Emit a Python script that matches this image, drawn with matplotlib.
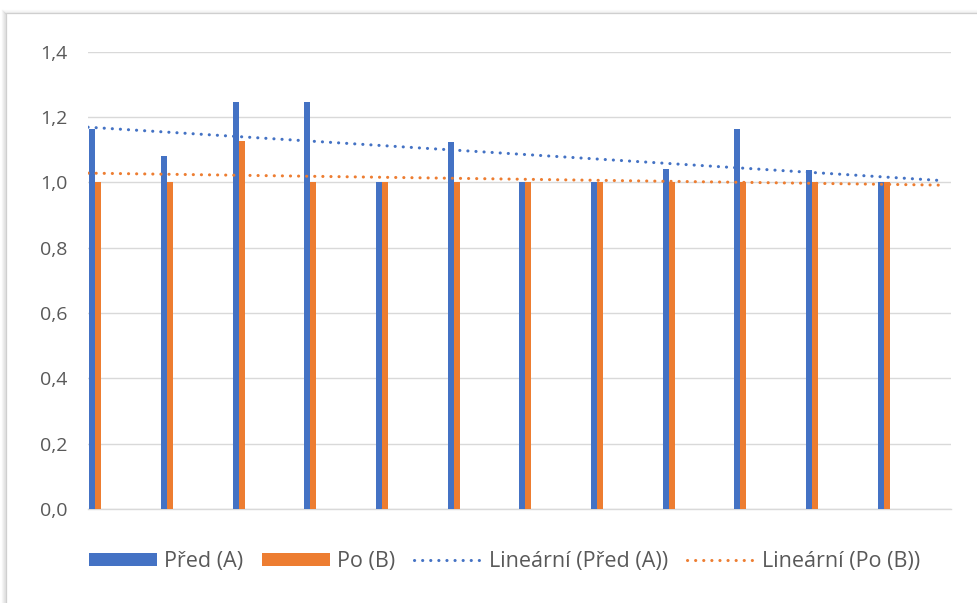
import numpy as np
import matplotlib.pyplot as plt
from matplotlib.patches import Patch, Rectangle
from matplotlib.lines import Line2D

plt.rcParams['font.family'] = ['Open Sans', 'DejaVu Sans']

# --- data ---
categories = list(range(1, 13))
pred_a = [1.163, 1.081, 1.246, 1.246, 1.0, 1.123, 1.0, 1.0, 1.040, 1.163, 1.037, 1.0]
po_b = [1.0, 1.0, 1.126, 1.0, 1.0, 1.0, 1.0, 1.0, 1.0, 1.0, 1.0, 1.0]
y_ticks = [0.0, 0.2, 0.4, 0.6, 0.8, 1.0, 1.2, 1.4]
y_tick_labels = ['0,0', '0,2', '0,4', '0,6', '0,8', '1,0', '1,2', '1,4']
series_names = ['Před (A)', 'Po (B)']
trend_names = ['Lineární (Před (A))', 'Lineární (Po (B))']

BLUE = '#4472C4'
ORANGE = '#ED7D31'
GRID = '#D9D9D9'
TEXT = '#595959'

W, H = 977, 603
fig = plt.figure(figsize=(W / 100, H / 100), dpi=100)
fig.patch.set_facecolor('white')

# chart frame with a soft shadow on the left/top
for i, a in enumerate([0.05, 0.09, 0.14, 0.2]):
    fig.add_artist(Line2D([(1.5 + i) / W, (1.5 + i) / W], [0, 1 - (10 + i) / H],
                          transform=fig.transFigure, color='#808080', alpha=a, lw=1.0,
                          zorder=-10))
    fig.add_artist(Line2D([(2 + i) / W, 1], [1 - (9.5 + i) / H, 1 - (9.5 + i) / H],
                          transform=fig.transFigure, color='#808080', alpha=a * 0.6, lw=1.0,
                          zorder=-10))
fig.add_artist(Rectangle((5.5 / W, -0.1), 1.2, 1.1 - 13 / H, transform=fig.transFigure,
                         facecolor='white', edgecolor='#CFCFCF', lw=0.9, zorder=-5))

left, right = 88 / W, 951 / W
bottom, top = 1 - 509 / H, 1 - 51.5 / H
ax = fig.add_axes([left, bottom, right - left, top - bottom])
ax.set_zorder(2)
ax.set_facecolor('none')

x = np.arange(len(categories))
bw = 0.084
ax.bar(x - bw / 2, pred_a, bw, color=BLUE, zorder=3)
ax.bar(x + bw / 2, po_b, bw, color=ORANGE, zorder=3)

# linear trend lines (least squares, as in the spreadsheet)
xt = np.array([-0.1, 11.83])
trend_style = dict(lw=2.2, linestyle=(0, (0.05, 2.6)), dash_capstyle='round')
for vals, col in [(pred_a, BLUE), (po_b, ORANGE)]:
    k, b = np.polyfit(x, vals, 1)
    ax.plot(xt, k * xt + b, color=col, zorder=4, **trend_style)

ax.set_xlim(-0.1, 11.94)
ax.set_ylim(0, 1.4)
ax.set_yticks(y_ticks)
ax.set_yticklabels(y_tick_labels)
ax.set_xticks([])
ax.tick_params(axis='y', length=0, pad=15, labelsize=14, labelcolor=TEXT)
ax.yaxis.grid(True, color=GRID, lw=1.0, zorder=0)
ax.set_axisbelow(True)
for s in ['top', 'right', 'left']:
    ax.spines[s].set_visible(False)
ax.spines['bottom'].set_color(GRID)
ax.spines['bottom'].set_linewidth(1.0)

fs = 15.5
fpx = fs * 100 / 72
handles = [Patch(facecolor=BLUE), Patch(facecolor=ORANGE),
           Line2D([], [], color=BLUE, **trend_style),
           Line2D([], [], color=ORANGE, **trend_style)]
fig.legend(handles, series_names + trend_names, loc='center left',
           bbox_to_anchor=(89 / W, 1 - 562 / H), ncol=4, frameon=False,
           fontsize=fs, labelcolor=TEXT, borderpad=0, borderaxespad=0,
           handlelength=68 / fpx, handleheight=12 / fpx, handletextpad=7 / fpx,
           columnspacing=19 / fpx)

fig.savefig('out.png', dpi=100, facecolor='white')
